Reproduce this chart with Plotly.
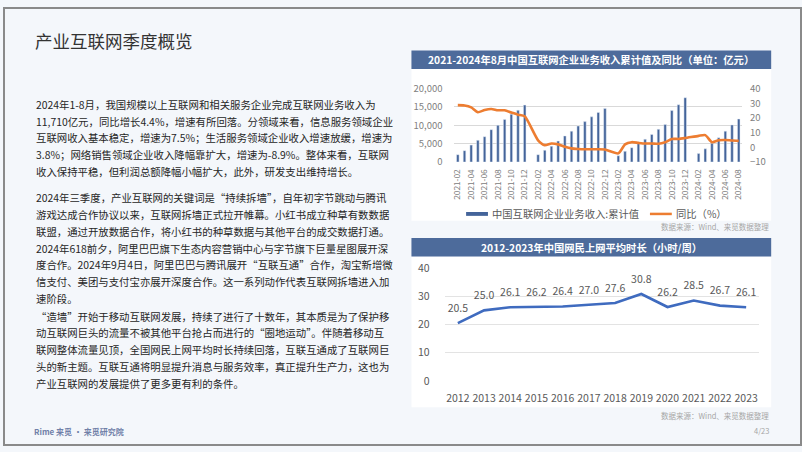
import plotly.graph_objects as go

W, H = 802, 452

# ---------------- data ----------------
months = [
    "2021-02", "2021-03", "2021-04", "2021-05", "2021-06", "2021-07", "2021-08", "2021-09", "2021-10", "2021-11", "2021-12",
    "2022-01", "2022-02", "2022-03", "2022-04", "2022-05", "2022-06", "2022-07", "2022-08", "2022-09", "2022-10", "2022-11", "2022-12",
    "2023-01", "2023-02", "2023-03", "2023-04", "2023-05", "2023-06", "2023-07", "2023-08", "2023-09", "2023-10", "2023-11", "2023-12",
    "2024-01", "2024-02", "2024-03", "2024-04", "2024-05", "2024-06", "2024-07", "2024-08",
]
revenue_cum = [
    2000, 3100, 4600, 5900, 6900, 8800, 10000, 11600, 13000, 14100, 15500,
    None, 2000, 3200, 4300, 5700, 7100, 8400, 9800, 11000, 12300, 13500, 14600,
    None, 1700, 2900, 3900, 5000, 6200, 7500, 8900, 10200, 14000, 15600, 17500,
    None, 2300, 3600, 5100, 6600, 8400, 10100, 11710,
]
yoy_pct = [
    28.7, 28.5, 27.2, 23.9, 25.4, 26.1, 25.2, 25.2, 23.7, 22.2, 21.1,
    None, 4.8, 1.5, 2.6, 2.0, 0.4, -0.7, -1.1, -1.3, -1.3, -1.3, -1.5,
    None, -4.1, 2.0, 3.5, 3.0, 2.6, 2.6, 2.4, 3.5, 5.7, 5.7, 6.3,
    None, 7.8, 8.3, 3.5, 4.8, 5.0, 4.6, 4.4,
]
month_ticks = months[::2]

years = ["2012", "2013", "2014", "2015", "2016", "2017", "2018", "2019", "2020", "2021", "2022", "2023"]
hours_per_week = [20.5, 25.0, 26.1, 26.2, 26.4, 27.0, 27.6, 30.8, 26.2, 28.5, 26.7, 26.1]

title_text = "产业互联网季度概览"
top_chart_title = "2021-2024年8月中国互联网企业业务收入累计值及同比（单位：亿元）"
bottom_chart_title = "2012-2023年中国网民上网平均时长（小时/周）"
legend_bar = "中国互联网企业业务收入:累计值"
legend_line = "同比（%）"
source_text = "数据来源：Wind、来觅数据整理"
footer_text = "<b>Rime 来觅 · 来觅研究院</b>"
page_text = "4/23"

para1 = [
    "2024年1-8月，我国规模以上互联网和相关服务企业完成互联网业务收入为",
    "11,710亿元，同比增长4.4%，增速有所回落。分领域来看，信息服务领域企业",
    "互联网收入基本稳定，增速为7.5%；生活服务领域企业收入增速放缓，增速为",
    "3.8%；网络销售领域企业收入降幅靠扩大，增速为-8.9%。整体来看，互联网",
    "收入保持平稳，但利润总额降幅小幅扩大，此外，研发支出维持增长。",
]
para2 = [
    "2024年三季度，产业互联网的关键词是“持续拆墙”，自年初字节跳动与腾讯",
    "游戏达成合作协议以来，互联网拆墙正式拉开帷幕。小红书成立种草有数数据",
    "联盟，通过开放数据合作，将小红书的种草数据与其他平台的成交数据打通。",
    "2024年618前夕，阿里巴巴旗下生态内容营销中心与字节旗下巨量星图展开深",
    "度合作。2024年9月4日，阿里巴巴与腾讯展开“互联互通”合作，淘宝新增微",
    "信支付、美团与支付宝亦展开深度合作。这一系列动作代表互联网拆墙进入加",
    "速阶段。",
]
para3 = [
    "“造墙”开始于移动互联网发展，持续了进行了十数年，其本质是为了保护移",
    "动互联网巨头的流量不被其他平台抢占而进行的“圈地运动”。伴随着移动互",
    "联网整体流量见顶，全国网民上网平均时长持续回落，互联互通成了互联网巨",
    "头的新主题。互联互通将明显提升消息与服务效率，真正提升生产力，这也为",
    "产业互联网的发展提供了更多更有利的条件。",
]

# ---------------- helpers ----------------
FONT = "Noto Sans CJK SC, Noto Sans, sans-serif"
def px(x):
    return x / W
def py(y):
    return 1 - y / H

BAR_COLOR = "#44649a"
LINE_COLOR = "#ed7d31"
HDR_COLOR = "#4d6b9b"
BLUE_LINE = "#3f6bbf"
GRAY = "#808080"

fig = go.Figure()

# top chart
fig.add_trace(go.Bar(
    x=months, y=revenue_cum, marker_color=BAR_COLOR, xaxis="x", yaxis="y",
    name=legend_bar, showlegend=False,
))
fig.add_trace(go.Scatter(
    x=months, y=yoy_pct, mode="lines", line=dict(color=LINE_COLOR, width=2.6, shape="spline", smoothing=0.6),
    connectgaps=True, xaxis="x", yaxis="y2", name=legend_line, showlegend=False,
))

# bottom chart
fig.add_trace(go.Scatter(
    x=years, y=hours_per_week, mode="lines+markers+text", line=dict(color=BLUE_LINE, width=2.6),
    marker=dict(size=12, color="rgba(0,0,0,0)"),
    text=[f"{v:.1f}" for v in hours_per_week], textposition="top center",
    textfont=dict(family=FONT, size=10.5, color="#595959"),
    xaxis="x2", yaxis="y3", showlegend=False, cliponaxis=False,
))

annotations = []

# body text
def add_lines(lines, y0, step=17.4):
    for i, t in enumerate(lines):
        annotations.append(dict(
            x=px(30), y=py(y0 + i * step), xref="paper", yref="paper", text=t,
            showarrow=False, xanchor="left", yanchor="middle",
            font=dict(family=FONT, size=10.4, color="#262626"),
        ))

add_lines(para1, 99.5)
add_lines(para2, 196.2)
add_lines(para3, 318.6)

annotations += [
    dict(x=px(29), y=py(34), xref="paper", yref="paper", text=title_text, showarrow=False,
         xanchor="left", yanchor="middle", font=dict(family=FONT, size=17.5, color="#333333")),
    dict(x=px(591), y=py(53.5), xref="paper", yref="paper", text=f"<b>{top_chart_title}</b>", showarrow=False,
         xanchor="center", yanchor="middle", font=dict(family=FONT, size=10.3, color="white")),
    dict(x=px(591), y=py(247.5), xref="paper", yref="paper", text=f"<b>{bottom_chart_title}</b>", showarrow=False,
         xanchor="center", yanchor="middle", font=dict(family=FONT, size=10.3, color="white")),
    dict(x=px(772), y=py(226.5), xref="paper", yref="paper", text=source_text, showarrow=False,
         xanchor="right", yanchor="middle", font=dict(family=FONT, size=7.5, color="#a6a6a6")),
    dict(x=px(772), y=py(421), xref="paper", yref="paper", text=source_text, showarrow=False,
         xanchor="right", yanchor="middle", font=dict(family=FONT, size=7.5, color="#a6a6a6")),
    dict(x=px(772), y=py(437.5), xref="paper", yref="paper", text=page_text, showarrow=False,
         xanchor="right", yanchor="middle", font=dict(family=FONT, size=7.5, color="#a6a6a6")),
    dict(x=px(28), y=py(438.5), xref="paper", yref="paper", text=footer_text, showarrow=False,
         xanchor="left", yanchor="middle", font=dict(family=FONT, size=8, color="#7080a8")),
    # legend texts
    dict(x=px(489), y=py(213), xref="paper", yref="paper", text=legend_bar, showarrow=False,
         xanchor="left", yanchor="middle", font=dict(family=FONT, size=10.3, color="#595959")),
    dict(x=px(674), y=py(213), xref="paper", yref="paper", text=legend_line, showarrow=False,
         xanchor="left", yanchor="middle", font=dict(family=FONT, size=10.3, color="#595959")),
]

shapes = [
    # white chart panels
    dict(type="rect", xref="paper", yref="paper", x0=px(410), x1=px(772), y0=py(220), y1=py(63),
         fillcolor="white", line=dict(width=0), layer="below"),
    dict(type="rect", xref="paper", yref="paper", x0=px(410), x1=px(772), y0=py(413), y1=py(257),
         fillcolor="white", line=dict(width=0), layer="below"),
    # header bars
    dict(type="rect", xref="paper", yref="paper", x0=px(410), x1=px(772), y0=py(63), y1=py(44),
         fillcolor=HDR_COLOR, line=dict(width=0), layer="below"),
    dict(type="rect", xref="paper", yref="paper", x0=px(410), x1=px(772), y0=py(257), y1=py(238),
         fillcolor=HDR_COLOR, line=dict(width=0), layer="below"),
    # legend symbols
    dict(type="rect", xref="paper", yref="paper", x0=px(465), x1=px(487), y0=py(215), y1=py(211),
         fillcolor=BAR_COLOR, line=dict(width=0)),
    dict(type="line", xref="paper", yref="paper", x0=px(650), x1=px(672), y0=py(213), y1=py(213),
         line=dict(color=LINE_COLOR, width=2.5)),
    # slide border
    dict(type="rect", xref="paper", yref="paper", x0=0, x1=1, y0=0, y1=1,
         fillcolor="rgba(0,0,0,0)", line=dict(color="#8a8a8a", width=2)),
]

axis_font = dict(family=FONT, size=9.5, color=GRAY)
fig.update_layout(
    width=W, height=H,
    margin=dict(l=0, r=0, t=0, b=0),
    paper_bgcolor="#f4f7fb",
    plot_bgcolor="rgba(0,0,0,0)",
    bargap=0.62,
    showlegend=False,
    xaxis=dict(
        domain=[px(453.3), px(742.7)], anchor="y", type="category", categoryorder="array",
        categoryarray=months, range=[-0.5, len(months) - 0.5],
        tickmode="array", tickvals=month_ticks, ticktext=month_ticks, tickangle=-90,
        tickfont=dict(family=FONT, size=8.3, color=GRAY), showgrid=False, showline=False,
        ticks="outside", ticklen=3, tickcolor="rgba(0,0,0,0)", fixedrange=True,
    ),
    yaxis=dict(
        domain=[py(159.3), py(83.3)], anchor="x", range=[0, 20000], tickvals=[0, 5000, 10000, 15000, 20000],
        tickformat=",d", tickfont=axis_font, gridcolor="#d9d9d9", gridwidth=1, zeroline=False,
        showline=False, ticks="outside", ticklen=9, tickcolor="rgba(0,0,0,0)",
    ),
    yaxis2=dict(
        domain=[py(159.3), py(83.3)], anchor="x", overlaying="y", side="right", range=[-10, 40],
        tickvals=[-10, 0, 10, 20, 30, 40], tickfont=axis_font, showgrid=False, zeroline=False,
        showline=False, ticks="outside", ticklen=5, tickcolor="rgba(0,0,0,0)",
    ),
    xaxis2=dict(
        domain=[px(443.5), px(760)], anchor="y3", type="category", categoryorder="array",
        categoryarray=years, range=[-0.5, len(years) - 0.5],
        tickfont=dict(family=FONT, size=10.5, color="#595959"), showgrid=False, showline=False,
        ticks="outside", ticklen=7, tickcolor="rgba(0,0,0,0)",
    ),
    yaxis3=dict(
        domain=[py(385.7), py(269)], anchor="x2", range=[0, 40], tickvals=[0, 10, 20, 30, 40],
        tickfont=dict(family=FONT, size=10.5, color="#595959"), gridcolor="#e3e3e3", gridwidth=1,
        zeroline=False, showline=False, ticks="outside", ticklen=12, tickcolor="rgba(0,0,0,0)",
    ),
    annotations=annotations,
    shapes=shapes,
)

fig.write_html(
    "out.html",
    config={"displayModeBar": False},
    post_script="document.body.style.margin='0';document.body.style.overflow='hidden';window.dispatchEvent(new Event('resize'));",
)
